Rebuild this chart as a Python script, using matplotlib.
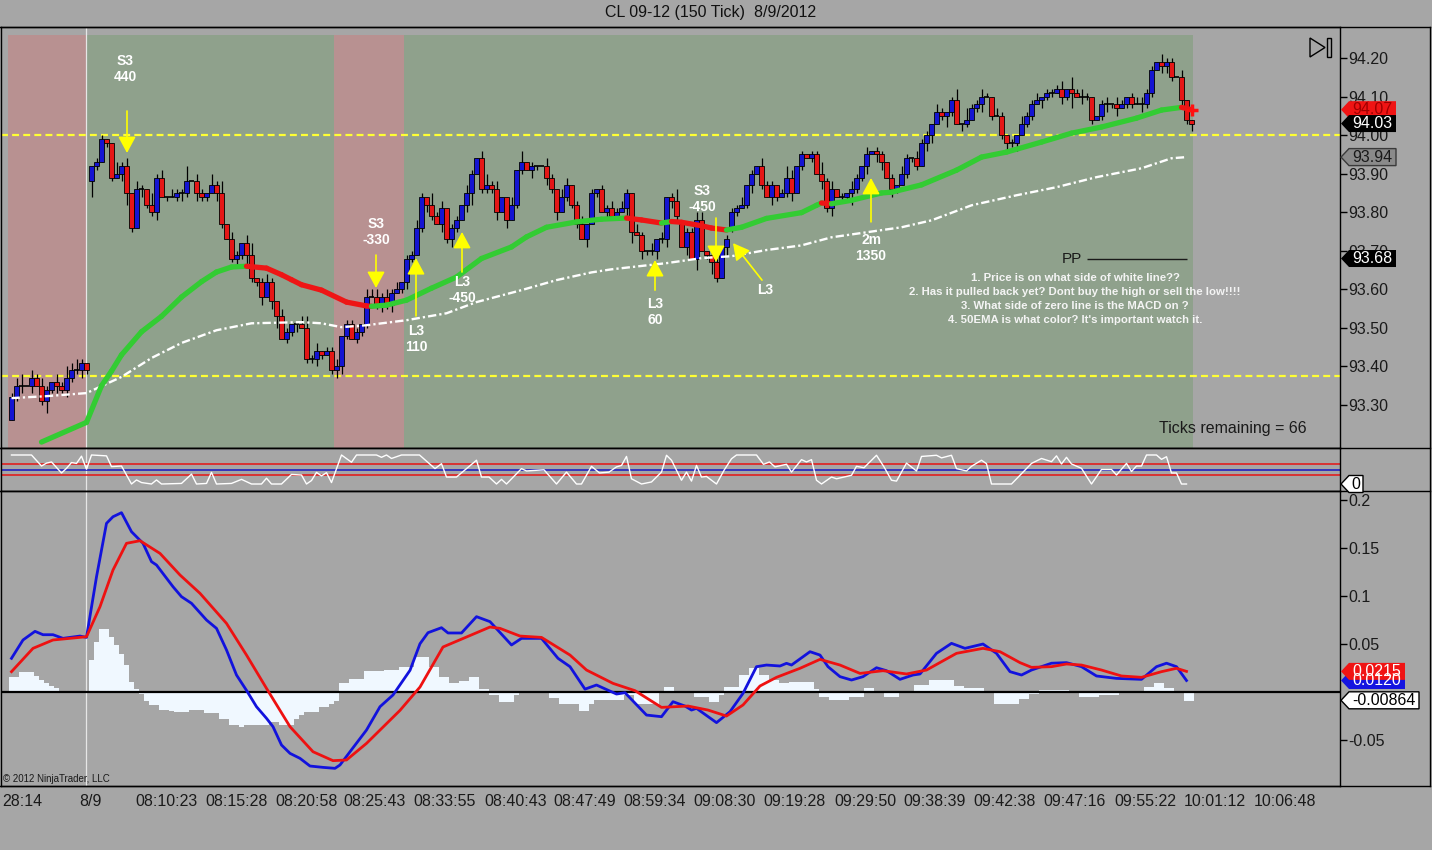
import numpy as np
import matplotlib
matplotlib.use("Agg")
import matplotlib.pyplot as plt
from matplotlib.patches import Rectangle, Polygon
from matplotlib.lines import Line2D

plt.rcParams["font.family"] = ["Liberation Sans", "DejaVu Sans"]
plt.rcParams["lines.scale_dashes"] = False

W, H = 1432, 850

# ---------------- data ----------------
# closes of the 150-tick bars, in cents above 93.00
closes = [
    32, 35, 35, 35, 37, 35, 31, 34, 36, 35,
    34, 37, 39, 39, 41, 39, 92, 93, 99, 98,
    89, 90, 92, 85, 76, 86, 86, 82, 80, 89,
    84, 84, 84, 85, 85, 88, 88, 85, 84, 85,
    87, 85, 77, 73, 68, 69, 72, 69, 63, 62,
    58, 62, 57, 53, 47, 49, 51, 51, 50, 42,
    42, 44, 43, 44, 39, 40, 48, 51, 47, 49,
    51, 58, 58, 56, 58, 56, 59, 60, 62, 68,
    69, 76, 84, 82, 79, 77, 81, 73, 76, 78,
    82, 85, 90, 94, 86, 87, 86, 80, 84, 78,
    82, 91, 93, 91, 92, 92, 92, 89, 86, 80,
    84, 87, 82, 77, 73, 77, 85, 86, 80, 81,
    79, 80, 81, 85, 75, 74, 70, 70, 70, 73,
    73, 84, 83, 79, 71, 75, 68, 78, 70, 69,
    67, 63, 71, 73, 80, 81, 82, 87, 90, 92,
    87, 84, 87, 84, 85, 89, 85, 92, 95, 94,
    95, 90, 88, 81, 86, 84, 84, 85, 86, 89,
    92, 95, 96, 95, 93, 89, 86, 87, 90, 94,
    94, 92, 98, 100, 103, 106, 105, 106, 109, 103,
    103, 104, 107, 108, 110, 110, 105, 105, 100, 98,
    98, 100, 103, 105, 108, 109, 110, 111, 111, 112,
    110, 112, 111, 110, 110, 110, 104, 105, 108, 108,
    108, 107, 108, 110, 108, 108, 108, 111, 117, 119,
    118, 119, 115, 115, 109, 104, 103,
]
# bars whose open is not the previous close (gaps), cents
open_gaps = {0: 26, 16: 88, 134: 77, 144: 76}
# wick lengths beyond the body, cents, one digit per bar
upper_rows = [
    "1230212102132310", "0110031202103120", "2114021031302102",
    "3012102100231201", "1201110222121201", "1210312011021023",
    "1200203010021022", "0120101121210210", "2020130112201201",
    "1120102110132010", "1131201021020110", "1021021102101303",
    "1121021010211201", "1120312100120210", "1221102110200",
]
lower_rows = [
    "0120201312121121", "4101102310211201", "0121021102101213",
    "1120230112011210", "1221011101212012", "1012102121023011",
    "1202011021021201", "1102010211023021", "1212210203013102",
    "1101201021012010", "1021201131120220", "2101110220131021",
    "0120101212011021", "1021402110121201", "1021102210212",
]

# 50 EMA (bar, cents)
ema50 = [
    (6, 20.4), (15, 25.5), (18, 35), (20, 38.8), (22, 43), (26, 49), (30, 53),
    (34, 58), (38, 62), (41, 64.5), (44, 65.8), (47, 66), (51, 65.5),
    (54, 63.8), (56, 62.5), (58, 61.2), (62, 59.8), (67, 56.7), (71, 55.7),
    (72, 55.6), (75, 55.9), (79, 57.2), (84, 60.3), (89, 63.2), (94, 68),
    (100, 71), (103, 73.6), (107, 76.1), (113, 77.5), (118, 78.2),
    (123, 78.5), (126, 78.0), (130, 77.2), (132, 77.6), (134, 77.4),
    (138, 76.5), (140, 75.9), (143, 75.4), (146, 76.1), (151, 78.4),
    (158, 79.9), (161, 81.8), (162, 82.4), (164, 82.2), (168, 83.1),
    (174, 85), (176, 85.2), (182, 87.1), (189, 90.9), (194, 94.3),
    (199, 95.6), (206, 98.2), (212, 100.5), (218, 102.1), (225, 104.4),
    (230, 106.5), (234, 107.2), (236, 106.6),
]
# slow average, white dash-dot (bar, cents)
ema_slow = [
    (0, 31.8), (7, 32.3), (15, 33.1), (22, 37.3), (28, 42.2), (34, 46.1),
    (41, 49.4), (48, 51.2), (58, 51.5), (62, 51.2), (66, 50.2), (71, 50.7),
    (79, 52), (87, 53.8), (93, 56.7), (102, 59.8), (109, 62.4), (116, 64.4),
    (120, 65.2), (131, 66.8), (138, 68.1), (144, 68.6), (151, 70.2),
    (158, 71.4), (164, 73.5), (171, 74.8), (178, 76.1), (184, 77.9),
    (192, 81.8), (201, 84.4), (209, 86.5), (217, 89.1), (226, 91.4),
    (232, 94), (235, 94.3),
]
# oscillator (bar, value)
osc = [
    (0, 100), (4, 100), (6, 62), (7, 72), (8, 76), (10, 38), (11, 54), (12, 74),
    (13, 71), (14, 96), (15, 51), (16, 100), (19, 97), (20, 60), (22, 62),
    (24, 0), (25, 14), (26, 5), (28, 0), (29, 14), (30, 0), (34, 2), (36, 34),
    (37, 0), (39, 2), (40, 40), (41, 0), (44, 2), (46, 16), (48, 0), (50, 0),
    (51, 20), (52, 0), (54, 0), (56, 33), (58, 31), (59, 0), (60, 12), (61, 40),
    (62, 28), (63, 39), (64, 5), (66, 100), (68, 75), (69, 100), (73, 100),
    (74, 92), (75, 100), (76, 88), (78, 100), (81.6, 100), (84.7, 53), (86, 70),
    (87, 24), (89, 24), (93, 82), (94, 24), (95.5, 24), (97, 0), (98, 16),
    (99, 0), (102, 53), (103, 45), (106.5, 49), (109, 0), (111, 41), (113, 0),
    (114, 0), (116, 61), (117.6, 38), (119.5, 41), (121, 59), (122, 64),
    (123, 95), (124, 18), (126, 0), (128, 7), (130, 41), (131, 99), (132, 82),
    (134, 13), (135, 41), (136, 10), (137, 64), (138, 24), (139, 26), (141, 0),
    (142.5, 47), (144, 87), (145, 100), (149, 100), (150.4, 68), (151.6, 76),
    (152.7, 59), (155, 68), (156, 41), (158, 84), (159, 76), (160, 84),
    (161, 13), (162, 0), (164, 24), (165, 18), (168, 30), (169, 61),
    (170.5, 56), (173, 99), (174.5, 59), (176, 13), (177, 10), (179, 72),
    (181, 45), (182, 95), (185, 99), (186, 90), (188, 99), (189, 53),
    (191, 45), (192, 61), (194, 82), (195, 70), (196, 0), (200, 0), (204, 71),
    (206, 88), (208, 77), (209, 97), (210, 69), (211, 92), (212, 69),
    (214, 54), (216, 0), (218, 50), (220, 50), (221, 31), (223, 71), (224, 43),
    (225, 62), (226, 62), (227, 100), (229, 100), (230, 85), (231, 94),
    (232, 38), (233, 38), (234, 0), (235, 0),
]
osc_levels = [(68, "#e02020"), (47, "#2020c0"), (32, "#e02020")]

# MACD (bar, value)
macd_line = [
    (0, 0.0351), (2.3, 0.0542), (4.7, 0.0632), (6.3, 0.0597), (8.3, 0.0597),
    (10.3, 0.0559), (13.7, 0.0583), (15, 0.0569), (17, 0.120), (19, 0.1757),
    (20.3, 0.1826), (22, 0.1868), (24, 0.1670), (26.3, 0.1549), (28, 0.1358),
    (29, 0.1323), (32.3, 0.1097), (34, 0.0993), (36, 0.0924), (39, 0.0750),
    (41, 0.0663), (43, 0.0438), (45, 0.0177), (47, 0.0017), (49, -0.0153),
    (51, -0.0274), (52.3, -0.0361), (54, -0.0552), (55.7, -0.0639),
    (57.7, -0.0691), (59.7, -0.0771), (62.3, -0.0785), (64.7, -0.0795),
    (65.7, -0.0760), (67.7, -0.0622), (71, -0.0396), (73.7, -0.0153),
    (76.3, -0.0031), (79.7, 0.0226), (81.7, 0.0503), (83.3, 0.0618),
    (86, 0.0670), (87.3, 0.0615), (90, 0.0615), (93, 0.0785), (95.7, 0.0733),
    (97.7, 0.0620), (100, 0.0490), (102, 0.0559), (106, 0.0559),
    (109.3, 0.0351), (111.7, 0.0264), (114.7, 0.0030), (117, 0.0073),
    (121, -0.0021), (122.7, -0.0007), (127, -0.0240), (130, -0.0257),
    (132.3, -0.0101), (134.7, -0.0146), (136, -0.0188), (137, -0.0170),
    (141, -0.0319), (143.7, -0.0205), (146.3, -0.0014), (149, 0.0264),
    (151, 0.0281), (153.7, 0.0271), (155, 0.0299), (156, 0.0281),
    (159.7, 0.0420), (161.7, 0.0385), (163.3, 0.0264), (165.7, 0.0160),
    (168, 0.0125), (170.3, 0.0160), (173, 0.0253), (175, 0.0222),
    (177.7, 0.0132), (180.3, 0.0177), (181.7, 0.0188), (185, 0.0403),
    (188, 0.0507), (190.7, 0.0455), (194.3, 0.0500), (197, 0.0403),
    (199.7, 0.0212), (202, 0.0177), (204, 0.0229), (208, 0.0300),
    (211, 0.0306), (214, 0.0264), (217, 0.0167), (221, 0.0142),
    (226, 0.0132), (229, 0.0264), (231, 0.0300), (233, 0.0264), (235, 0.0120),
]
macd_signal = [
    (0, 0.0212), (4.3, 0.0455), (8.3, 0.0542), (15, 0.0576), (17.7, 0.0889),
    (20.3, 0.1271), (23, 0.1549), (25.7, 0.1576), (29.7, 0.1444),
    (33.7, 0.1219), (37.7, 0.1028), (43, 0.0715), (47, 0.0385), (51, 0.0038),
    (55.7, -0.0361), (60.3, -0.0622), (64.3, -0.0715), (67, -0.0708),
    (71, -0.0535), (77.7, -0.0191), (81.7, 0.0052), (86.3, 0.0469),
    (91, 0.0573), (95.7, 0.0677), (97.7, 0.0663), (101.7, 0.0583),
    (106, 0.0569), (111.7, 0.0385), (115, 0.0229), (120.3, 0.0090),
    (124.7, 0.0014), (130, -0.0160), (135.3, -0.0146), (139.3, -0.0188),
    (143, -0.0250), (146.3, -0.0135), (149.7, 0.0063), (153, 0.0153),
    (157.7, 0.0247), (161.7, 0.0340), (165.7, 0.0281), (169.7, 0.0194),
    (174.3, 0.0222), (179, 0.0188), (183, 0.0229), (189, 0.0403),
    (194.3, 0.0455), (197.7, 0.0420), (201.7, 0.0306), (204, 0.0257),
    (208, 0.0264), (211, 0.0292), (214, 0.0281), (218, 0.0229),
    (222, 0.0167), (226, 0.0153), (230, 0.0212), (233, 0.0247), (235, 0.0215),
]
# histogram, thousandths, as (value, number of bars)
hist_runs = [
    (16, 2), (21, 3), (17, 1), (12, 1), (9, 1), (6, 1), (4, 1), (1, 6),
    (33, 1), (52, 1), (66, 2), (57, 1), (49, 1), (40, 1), (28, 1), (10, 1),
    (3, 1), (-2, 1), (-9, 1), (-14, 2), (-19, 2), (-20, 1), (-21, 3),
    (-19, 3), (-22, 3), (-28, 2), (-34, 2), (-36, 1), (-34, 5), (-31, 2),
    (-34, 3), (-28, 1), (-24, 1), (-21, 3), (-16, 2), (-12, 1), (-9, 1),
    (9, 2), (14, 3), (22, 4), (23, 3), (26, 3), (36, 3), (26, 2), (16, 2),
    (9, 2), (11, 2), (16, 2), (3, 2), (-3, 2), (-10, 3), (-3, 1), (-1, 6),
    (-6, 2), (-13, 4), (-20, 2), (-12, 1), (-8, 6), (-3, 2), (-13, 5),
    (0, 1), (5, 2), (0, 2), (-1, 2), (-5, 3), (-10, 2), (-3, 1), (5, 3),
    (18, 2), (25, 2), (18, 2), (13, 2), (9, 2), (10, 5), (3, 1), (-5, 2),
    (-8, 4), (-5, 3), (4, 2), (0, 2), (-5, 3), (0, 3), (7, 3), (13, 5),
    (6, 2), (4, 4), (-1, 2), (-12, 3), (-13, 2), (-7, 2), (-2, 2), (2, 6),
    (0, 2), (-5, 4), (-3, 4), (-1, 5), (5, 2), (9, 2), (4, 2), (-1, 2),
    (-9, 2),
]

price_ticks = [93.30, 93.40, 93.50, 93.60, 93.70, 93.80, 93.90, 94.00, 94.10, 94.20]
macd_ticks = [0.2, 0.15, 0.1, 0.05, -0.05]
macd_tick_labels = ["0.2", "0.15", "0.1", "0.05", "-0.05"]
time_ticks = [2.1, 15.7, 31.1, 45.1, 59.1, 72.7, 86.7, 100.9, 114.7, 128.7,
              142.7, 156.7, 170.7, 184.7, 198.7, 212.7, 226.7, 240.7, 254.7]
time_labels = ["28:14", "8/9", "08:10:23", "08:15:28", "08:20:58", "08:25:43",
               "08:33:55", "08:40:43", "08:47:49", "08:59:34", "09:08:30",
               "09:19:28", "09:29:50", "09:38:39", "09:42:38", "09:47:16",
               "09:55:22", "10:01:12", "10:06:48"]
pivot_lines = [94.00, 93.375]
pp_level = 93.68
session_spans = [(-0.7, 14.9, "#b89191"), (14.9, 64.5, "#8fa18c"),
                 (64.5, 78.5, "#b89191"), (78.5, 236.3, "#8fa18c")]
session_break = 14.9

# ---------------- build ----------------
BG = "#a6a6a6"
fig = plt.figure(figsize=(W / 100, H / 100), dpi=100, facecolor=BG)


def panel(top, bottom):
    ax = fig.add_axes([1 / W, 1 - bottom / H, 1339 / W, (bottom - top) / H])
    ax.set_facecolor(BG)
    ax.set_xlim(-2.1, 265.7)
    for s in ax.spines.values():
        s.set_color("black")
        s.set_linewidth(1)
    return ax


ax_p = panel(27, 448)
ax_o = panel(448, 491)
ax_m = panel(491, 786)

n = len(closes)
idx = np.arange(n)
c = 93 + np.array(closes) / 100
o = np.array([open_gaps.get(i, closes[i - 1] if i else closes[0]) for i in range(n)])
o = 93 + o / 100
up = np.array([int(ch) for ch in "".join(upper_rows)]) / 100
dn = np.array([int(ch) for ch in "".join(lower_rows)]) / 100
hi = np.maximum(o, c) + up
lo = np.minimum(o, c) - dn

# price panel
ylo, yhi = 93.1886, 94.2804
ax_p.set_ylim(ylo, yhi)
for x0, x1, col in session_spans:
    ax_p.add_patch(Rectangle((x0, ylo), x1 - x0, 94.2597 - ylo, facecolor=col,
                             edgecolor="none", zorder=0.5))
for ax in (ax_p, ax_o, ax_m):
    ax.axvline(session_break, color="#e6e6e6", lw=0.9, zorder=0.8)

for lvl in pivot_lines:
    ax_p.axhline(lvl, color="#ffff33", lw=1.6, dashes=(5, 3), zorder=2.5)

ax_p.vlines(idx, lo, hi, color="black", lw=0.9, zorder=3)
m_up = c > o
m_dn = c < o
m_dj = c == o
ax_p.bar(idx[m_up], (c - o)[m_up], bottom=o[m_up], width=0.86, color="#1414d2",
         edgecolor="black", lw=0.6, zorder=4)
ax_p.bar(idx[m_dn], (o - c)[m_dn], bottom=c[m_dn], width=0.86, color="#e41616",
         edgecolor="black", lw=0.6, zorder=4)
ax_p.hlines(c[m_dj], idx[m_dj] - 0.45, idx[m_dj] + 0.45, color="black", lw=1.2, zorder=4)

sx = [p[0] for p in ema_slow]
sy = [93 + p[1] / 100 for p in ema_slow]
ax_p.plot(sx, sy, color="white", lw=1.7, dashes=(6, 2.2, 1.6, 2.2), zorder=5)

for (xa, ya), (xb, yb) in zip(ema50[:-1], ema50[1:]):
    col = "#33cc33" if yb >= ya else "#ee1515"
    ax_p.plot([xa, xb], [93 + ya / 100, 93 + yb / 100], color=col, lw=3.8,
              solid_capstyle="round", zorder=5)
ax_p.plot(ema50[-1][0], 93 + ema50[-1][1] / 100, marker="+", color="#ff1010",
          ms=8, mew=2.5, zorder=6)

# PP marker
ax_p.hlines(pp_level, 215.1, 235.1, color="#1a1a1a", lw=1, zorder=5)
ax_p.text(212.0, pp_level, "PP", ha="center", va="center", fontsize=11,
          color="#1a1a1a", zorder=6)

# signal annotations: (text x, text y, label, arrow x0, y0, x1, y1)
notes = [
    (22.7, 94.171, "S3\n440", 23.1, 94.0626, 23.1, 93.9536),
    (72.9, 93.749, "S3\n-330", 72.9, 93.689, 72.9, 93.6035),
    (80.9, 93.471, "L3\n110", 80.9, 93.531, 80.9, 93.681),
    (90.1, 93.598, "L3\n-450", 90.1, 93.645, 90.1, 93.749),
    (128.7, 93.541, "L3\n60", 128.7, 93.598, 128.7, 93.676),
    (138.1, 93.834, "S3\n-450", 140.9, 93.785, 140.9, 93.671),
    (150.7, 93.598, "L3", 150.1, 93.624, 144.3, 93.720),
    (171.9, 93.707, "2m\n1350", 171.9, 93.775, 171.9, 93.889),
]
for tx, ty, lab, ax0, ay0, ax1, ay1 in notes:
    ax_p.text(tx, ty, lab, ha="center", va="center", color="white",
              fontweight="bold", fontsize=10, linespacing=1.2, zorder=7)
    ax_p.annotate("", xy=(ax1, ay1), xytext=(ax0, ay0),
                  arrowprops=dict(arrowstyle="-|>,head_length=0.5,head_width=0.27",
                                  color="#ffff00", lw=1.2, mutation_scale=20,
                                  shrinkA=0, shrinkB=0), zorder=7)

ax_p.set_xticks([])
ax_p.yaxis.tick_right()
ax_p.set_yticks(price_ticks)
ax_p.set_yticklabels([f"{v:.2f}" for v in price_ticks])
ax_p.tick_params(axis="y", direction="out", length=5, width=1, pad=1,
                 labelsize=11.5, colors="black", labelcolor="#1a1a1a")

# oscillator
ax_o.set_ylim(-24.1, 124.1)
for lvl, col in osc_levels:
    ax_o.axhline(lvl, color=col, lw=1.2, zorder=2)
ax_o.plot([p[0] for p in osc], [p[1] for p in osc], color="white", lw=1.0, zorder=3)
ax_o.set_xticks([])
ax_o.set_yticks([])

# MACD
ax_m.set_ylim(-0.0979, 0.2094)
hist = np.concatenate([np.full(k, v) for v, k in hist_runs]) / 1000
ax_m.bar(np.arange(len(hist)), hist, width=1.0, color="#f0f8ff", edgecolor="none", zorder=2)
ax_m.axhline(0, color="black", lw=1.6, zorder=3)
ax_m.plot([p[0] for p in macd_line], [p[1] for p in macd_line], color="#1212dd",
          lw=2.0, zorder=4)
ax_m.plot([p[0] for p in macd_signal], [p[1] for p in macd_signal], color="#ee1111",
          lw=2.0, zorder=5)
ax_m.yaxis.tick_right()
ax_m.set_yticks(macd_ticks)
ax_m.set_yticklabels(macd_tick_labels)
ax_m.tick_params(axis="y", direction="out", length=5, width=1, pad=1,
                 labelsize=11.5, labelcolor="#1a1a1a")
ax_m.set_xticks(time_ticks)
ax_m.set_xticklabels(time_labels)
ax_m.tick_params(axis="x", length=0, pad=6, labelsize=11.5, labelcolor="#1a1a1a")

# ---------------- frame, texts, tags ----------------
def fy(y):
    return 1 - y / H


for y in (27, 448, 491, 786):
    fig.add_artist(Line2D([0, 1430 / W], [fy(y), fy(y)], color="black", lw=1))
fig.add_artist(Line2D([1430 / W, 1430 / W], [fy(27), fy(786)], color="black", lw=1))

fig.text(711 / W, fy(12), "CL 09-12 (150 Tick)  8/9/2012", ha="center", va="center",
         fontsize=11.5, color="#111111")
fig.text(1233 / W, fy(428), "Ticks remaining = 66", ha="center", va="center",
         fontsize=11.5, color="#1a1a1a")
fig.text(3 / W, fy(779), "\u00a9 2012 NinjaTrader, LLC", ha="left", va="center",
         fontsize=7, color="#1a1a1a")

rules = [
    (278, "1. Price is on what side of white line??"),
    (292, "2. Has it pulled back yet? Dont buy the high or sell the low!!!!"),
    (306, "3. What side of zero line is the MACD on ?"),
    (320, "4. 50EMA is what color? It's important watch it."),
]
for y, s in rules:
    fig.text(1075 / W, fy(y), s, ha="center", va="center", fontsize=8.2,
             fontweight="bold", color="#f4f4f4")

# play/scroll icon top right
tri = [(1310, 38), (1310, 57), (1325, 47.5)]
fig.add_artist(Polygon([(x / W, fy(y)) for x, y in tri], closed=True, fill=False,
                       edgecolor="black", lw=1, transform=fig.transFigure))
bar_icon = [(1327, 38), (1331, 38), (1331, 57), (1327, 57)]
fig.add_artist(Polygon([(x / W, fy(y)) for x, y in bar_icon], closed=True, fill=False,
                       edgecolor="black", lw=1, transform=fig.transFigure))

inv = fig.transFigure.inverted()


def tag(ax, value, label, face, tcolor, w, edge="none", h=17):
    yd = ax.transData.transform((0, value))[1]
    x0 = 1341
    pts = [(x0, yd), (x0 + 8, yd + h / 2), (x0 + w, yd + h / 2),
           (x0 + w, yd - h / 2), (x0 + 8, yd - h / 2)]
    fig.add_artist(Polygon(inv.transform(pts), closed=True, facecolor=face,
                           edgecolor=edge, lw=1, transform=fig.transFigure, zorder=5))
    tx, ty = inv.transform((x0 + 8 + (w - 8) / 2, yd))
    fig.text(tx, ty, label, ha="center", va="center", color=tcolor,
             fontsize=11.5, zorder=6)


tag(ax_p, 94.066, "94.07", "#f01414", "#a00000", 55)
tag(ax_p, 94.03, "94.03", "black", "white", 55)
tag(ax_p, 93.943, "93.94", "#8a8a8a", "#1a1a1a", 55, edge="#3a3a3a")
tag(ax_p, pp_level, "93.68", "black", "white", 55)
tag(ax_o, 0, "0", "white", "black", 22, edge="black")
tag(ax_m, 0.0120, "0.0120", "#1414e0", "white", 64)
tag(ax_m, 0.0215, "0.0215", "#f01414", "white", 64)
tag(ax_m, -0.00864, "-0.00864", "white", "black", 78, edge="black")

fig.savefig("out.png", dpi=100, facecolor=BG)
